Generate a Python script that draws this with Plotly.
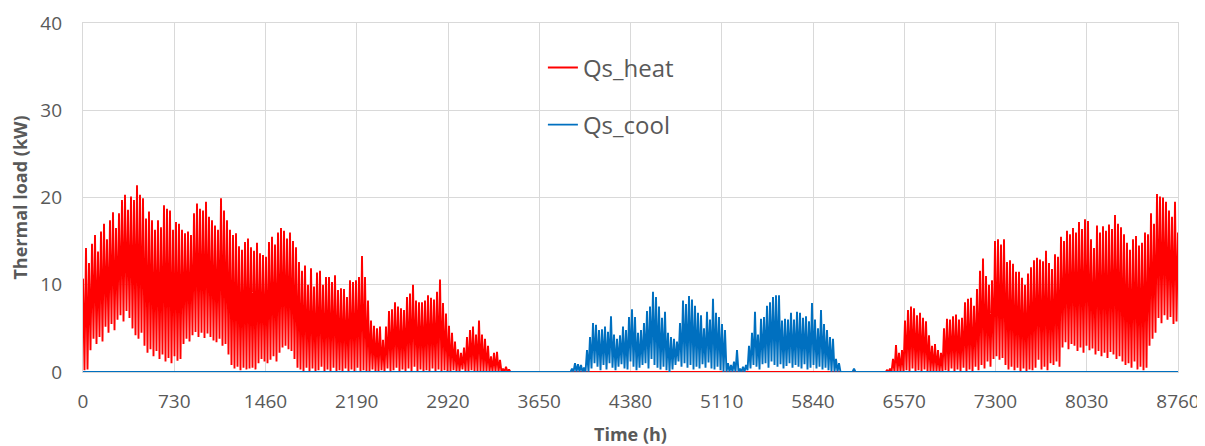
import plotly.graph_objects as go

# ---- data (kW) ----
# Each season is listed as daily peak values (at the start of each day) and
# the following trough values (12 h later).
STEP_H = 12

# Heating, first season (day 0 .. day 142)
HEAT_EARLY_START = 0
HEAT_EARLY_PEAKS = [
    10.7, 14.2, 12.5, 14.7, 15.7, 13.8, 16.1, 17.0, 15.2, 17.4,
    18.3, 16.5, 18.2, 19.7, 20.3, 18.6, 20.1, 19.7, 21.4, 20.3,
    19.9, 17.6, 18.4, 17.4, 16.3, 17.4, 16.6, 19.1, 18.7, 18.5,
    16.3, 17.2, 17.0, 16.3, 15.9, 16.1, 15.7, 18.2, 19.3, 18.7,
    18.5, 19.5, 17.8, 17.4, 16.8, 16.3, 19.9, 18.5, 17.4, 16.3,
    15.7, 15.9, 14.4, 14.0, 14.9, 15.3,
    14.3, 13.9, 14.8, 13.6, 13.4, 13.2, 14.9, 15.5, 14.6, 16.0,
    16.5, 16.2, 15.3, 16.0, 15.0, 14.3,
    12.6, 11.6, 12.2, 10.0, 11.9, 9.8, 11.4, 11.6, 10.0, 10.9,
    10.9, 10.3, 11.1, 9.4, 9.6, 9.5, 8.6, 10.5, 10.3, 10.5,
    10.9, 13.3, 10.9, 8.2, 5.9, 5.3, 5.0, 5.2, 3.7, 5.2,
    7.0, 7.2, 8.0, 7.5, 7.3, 7.1, 8.6, 9.0, 10.0, 8.2,
    8.0, 8.0, 8.2, 8.8, 8.5, 8.3, 9.2, 10.6, 7.9, 6.7,
    5.3, 4.5, 3.5, 2.6, 2.2, 2.8, 4.0, 4.8, 5.2, 4.3,
    5.9, 4.3, 3.8, 3.0, 1.8, 2.2, 2.3, 1.4, 0.4, 0.6,
    0.3,
]
HEAT_EARLY_TROUGHS = [
    0.2, 0.3, 2.5, 3.8, 3.2, 4.0, 3.5, 5.2, 4.5, 5.5,
    4.8, 6.0, 6.5, 5.8, 7.0, 6.2, 5.0, 4.2, 3.8, 4.5,
    3.0, 2.2, 2.6, 1.8, 2.4, 1.5, 2.0, 1.2, 1.6, 1.0,
    1.8, 1.3, 1.5, 3.2, 3.8, 3.5, 4.2, 4.6, 4.0, 4.5,
    3.9, 4.4, 4.0, 3.6, 3.4, 3.8, 3.0, 3.2, 2.0, 0.8,
    0.4, 0.6, 0.2, 0.5, 0.3, 0.4,
    0.5, 0.3, 1.0, 1.5, 1.2, 1.0, 1.4, 1.8, 1.2, 2.2,
    2.8, 3.0, 2.6, 2.4, 1.5, 0.5,
    0.3, 0.0, 0.5, 0.0, 0.4, 0.0, 0.2, 0.6, 0.0, 0.3,
    0.0, 0.5, 0.0, 0.2, 0.0, 0.4, 0.0, 0.3, 0.0, 0.5,
    0.0, 0.2, 0.0, 0.0, 0.3, 0.0, 0.0, 0.2, 0.0, 0.4,
    0.0, 0.2, 0.5, 0.0, 0.3, 0.0, 0.4, 0.0, 0.6, 0.0,
    0.3, 0.0, 0.2, 0.0, 0.4, 0.0, 0.3, 0.0, 0.2, 0.0,
    0.0, 0.2, 0.0, 0.0, 0.3, 0.0, 0.0, 0.2, 0.0, 0.0,
    0.0, 0.0, 0.0, 0.0, 0.0, 0.0, 0.0, 0.0, 0.0, 0.0,
    0.0,
]

# Heating, second season (day 266 .. hour 8760)
HEAT_LATE_START = 6384
HEAT_LATE_PEAKS = [
    0.0, 0.0, 0.2, 0.4, 1.5, 3.1, 2.2, 2.5, 5.9, 7.1,
    7.5, 7.3, 6.5, 6.8, 6.2, 5.8, 4.2, 3.0, 3.2, 2.5,
    2.2, 5.0, 6.1, 6.0, 6.4, 6.6, 6.0, 6.2, 8.0, 8.4,
    8.5, 7.6, 9.5, 11.6, 13.0, 11.0, 10.0, 10.5, 15.0, 15.2,
    14.6, 15.2, 12.6, 12.8, 12.4, 11.5, 11.5, 10.8, 10.0, 11.3,
    12.0, 12.8, 13.1, 12.9, 12.7, 13.9, 12.5, 11.8, 13.5, 13.2,
    15.5, 15.0, 16.2, 15.8, 16.5, 16.0, 17.2, 16.4, 17.5, 17.3,
    15.2, 14.2, 16.8, 16.0, 16.7, 16.2, 16.9, 16.4, 18.0, 17.0,
    16.6, 15.8, 14.8, 14.0, 15.2, 15.6, 14.5, 14.8, 16.0, 15.8,
    18.2, 17.0, 20.4, 20.1, 20.0, 19.5, 18.5, 17.8, 19.5, 16.0,
]
HEAT_LATE_TROUGHS = [
    0.0, 0.0, 0.0, 0.0, 0.0, 0.0, 0.0, 0.0, 0.2, 0.0,
    0.4, 0.0, 0.2, 0.0, 0.3, 0.0, 0.0, 0.0, 0.0, 0.0,
    0.0, 0.2, 0.0, 0.4, 0.0, 0.3, 0.0, 0.5, 0.0, 0.3,
    0.0, 0.6, 0.2, 0.8, 0.4, 1.2, 0.6, 1.5, 1.8, 1.4,
    1.6, 0.8, 0.3, 0.6, 0.2, 0.5, 0.0, 0.4, 0.0, 0.3,
    0.2, 0.5, 1.4, 0.3, 0.6, 0.2, 1.0, 0.8, 1.2, 0.6,
    2.8, 3.4, 2.6, 3.2, 3.0, 2.4, 2.8, 2.2, 3.0, 2.5,
    2.7, 2.0, 2.4, 1.8, 2.2, 1.6, 2.3, 2.0, 1.5, 1.8,
    1.2, 0.8, 1.0, 0.5, 1.2, 0.3, 0.6, 0.2, 0.5, 3.0,
    3.8, 4.5, 6.2, 5.6, 6.5, 6.0, 6.3, 5.5, 5.8,
]

# Cooling season (day 162 .. day 257)
COOL_START = 3888
COOL_PEAKS = [
    0.0, 0.4, 1.0, 0.9, 0.8, 0.5, 2.5, 4.0, 5.6, 5.4,
    4.8, 4.9, 5.2, 4.6, 6.4, 4.3, 3.8, 4.2, 5.2, 4.8,
    6.3, 7.2, 6.3, 4.5, 4.8, 5.6, 7.0, 7.5, 9.2, 8.6,
    7.5, 6.2, 6.9, 4.5, 4.0, 3.8, 3.5, 5.6, 8.2, 7.8,
    8.7, 8.3, 7.6, 6.8, 6.5, 5.0, 6.9, 6.0, 8.4, 6.8,
    6.3, 5.5, 4.8, 1.0, 0.8, 1.2, 2.5, 0.4, 0.6, 0.8,
    3.0, 4.5, 6.9, 4.3, 6.1, 6.3, 7.6, 8.0, 8.6, 8.8,
    8.8, 5.9, 6.1, 6.0, 6.8, 6.0, 6.9, 6.8, 6.2, 6.4,
    5.8, 7.9, 6.0, 5.0, 7.1, 5.5, 4.8, 4.0, 3.8, 1.5,
    1.0, 0.0, 0.0, 0.0, 0.0, 0.4,
]
COOL_TROUGHS = [
    0.0, 0.0, 0.0, 0.0, 0.0, 0.0, 0.0, 0.4, 1.0, 0.6,
    0.2, 0.8, 0.3, 1.0, 0.5, 0.2, 0.6, 0.9, 0.4, 0.3,
    1.2, 0.6, 0.2, 0.5, 0.8, 1.0, 0.4, 1.5, 0.8, 0.5,
    0.3, 0.6, 0.2, 0.0, 0.3, 0.8, 1.2, 0.6, 1.0, 0.5,
    0.8, 0.3, 0.6, 0.4, 0.9, 0.5, 1.1, 0.4, 0.3, 0.6,
    0.2, 0.0, 0.0, 0.0, 0.0, 0.0, 0.0, 0.0, 0.0, 0.2,
    0.4, 0.8, 0.6, 0.3, 0.9, 1.0, 0.5, 1.2, 0.8, 0.6,
    0.9, 0.4, 0.7, 1.0, 0.5, 0.8, 0.6, 0.4, 0.9, 0.3,
    0.5, 0.8, 0.4, 0.6, 0.3, 0.5, 0.2, 0.0, 0.0, 0.0,
    0.0, 0.0, 0.0, 0.0, 0.0, 0.0,
]

YEAR_START, YEAR_END = 0, 8760
X_TICKS = [0, 730, 1460, 2190, 2920, 3650, 4380, 5110, 5840, 6570, 7300, 8030, 8760]
Y_TICKS = [0, 10, 20, 30, 40]
SERIES_NAMES = ["Qs_heat", "Qs_cool"]


def interleave(start, peaks, troughs):
    xs, ys = [], []
    for i, p in enumerate(peaks):
        xs.append(start + 2 * i * STEP_H)
        ys.append(p)
        if i < len(troughs):
            xs.append(start + (2 * i + 1) * STEP_H)
            ys.append(troughs[i])
    return xs, ys


hx1, hy1 = interleave(HEAT_EARLY_START, HEAT_EARLY_PEAKS, HEAT_EARLY_TROUGHS)
hx2, hy2 = interleave(HEAT_LATE_START, HEAT_LATE_PEAKS, HEAT_LATE_TROUGHS)
heat_x, heat_y = hx1 + hx2, hy1 + hy2

cx, cy = interleave(COOL_START, COOL_PEAKS, COOL_TROUGHS)
cool_x = [YEAR_START] + cx + [YEAR_END]
cool_y = [0] + cy + [0]

GRID = "#d9d9d9"
TXT = "#595959"
FONT = "Open Sans"

fig = go.Figure()
fig.add_trace(go.Scatter(x=heat_x, y=heat_y, mode="lines", name=SERIES_NAMES[0],
                         line=dict(color="#ff0000", width=1.9), legendgroup="h"))
fig.add_trace(go.Scatter(x=cool_x, y=cool_y, mode="lines", name=SERIES_NAMES[1],
                         line=dict(color="#0070c0", width=1.9), legendgroup="c"))

# The page body has an 8 px default margin, so the figure is sized to fit.
fig.update_layout(
    width=1197, height=438,
    margin=dict(l=75, r=27, t=15, b=74),
    paper_bgcolor="white", plot_bgcolor="white",
    font=dict(family=FONT, color=TXT),
    legend=dict(x=0.42, y=0.936, xanchor="left", yanchor="top",
                font=dict(size=24, color=TXT, family=FONT),
                bgcolor="rgba(0,0,0,0)", tracegroupgap=23),
    showlegend=True,
)
fig.update_xaxes(range=[YEAR_START, YEAR_END], tickvals=X_TICKS, automargin=False,
                 showgrid=True, gridcolor=GRID, gridwidth=1.3,
                 zeroline=False, showline=True, mirror=True, linecolor=GRID, linewidth=1.3,
                 tickfont=dict(size=19, color=TXT), ticks="", ticklabelstandoff=12,
                 title=dict(text="<b>Time (h)</b>", font=dict(size=18, color=TXT), standoff=15))
fig.update_yaxes(range=[0, 40], tickvals=Y_TICKS, automargin=False,
                 showgrid=True, gridcolor=GRID, gridwidth=1.3,
                 zeroline=False, showline=True, mirror=True, linecolor=GRID, linewidth=1.3,
                 tickfont=dict(size=19, color=TXT), ticks="", ticklabelstandoff=16,
                 title=dict(text="<b>Thermal load (kW)</b>", font=dict(size=18, color=TXT), standoff=10))

fig.write_html("out.html")
